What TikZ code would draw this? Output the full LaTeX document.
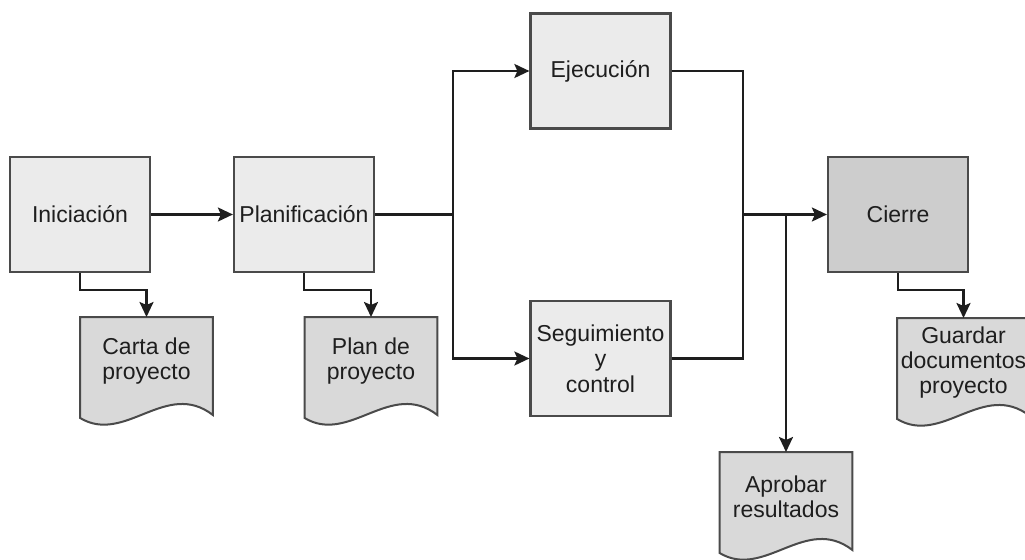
\documentclass[tikz,border=0pt]{standalone}
\usepackage{fontspec}
\setmainfont{Liberation Sans}
\usetikzlibrary{arrows.meta,calc,backgrounds}

\definecolor{boxfill}{HTML}{EBEBEB}
\definecolor{endfill}{HTML}{CDCDCD}
\definecolor{docfill}{HTML}{D9D9D9}
\definecolor{edge}{HTML}{4A4A4A}
\definecolor{ink}{HTML}{1E1E1E}

\tikzset{
  phase/.style={draw=edge, line width=1.1pt, fill=boxfill, minimum width=70pt, minimum height=57.5pt,
    align=center, inner sep=0pt, text=ink, font=\fontsize{11.5}{12.8}\selectfont},
  docnode/.style={minimum width=66pt, minimum height=44pt, anchor=north, align=center, inner sep=0pt,
    text=ink, font=\fontsize{11.5}{12.6}\selectfont},
  docline/.style={draw=edge, line width=1pt, fill=docfill},
  wire/.style={draw=ink, line width=1.2pt},
  flow/.style={wire, -{Stealth[length=7.5pt,width=7pt,inset=1.5pt]}}
}

\begin{document}
\begin{tikzpicture}[x=0.5pt,y=0.5pt]
\useasboundingbox (0,0) rectangle (1025,559);
% fases
\node[phase] (inic) at (80,344.5) {Iniciación};
\node[phase] (plan) at (304,344.5) {Planificación};
\node[phase] (ejec) at (600.5,488) {Ejecución};
\node[phase] (segu) at (600.5,200.5) {Seguimiento\\y\\control};
\node[phase, fill=endfill] (cierre) at (898,344.5) {Cierre};
% documentos
\node[docnode] (carta) at (146.5,242) {Carta de\\proyecto};
\node[docnode] (plandoc) at (371,242) {Plan de\\proyecto};
\node[docnode] (aprobar) at (786,107) {Aprobar\\resultados};
\node[docnode] (guardar) at (963.5,241) {Guardar\\documentos\\proyecto};
\begin{scope}[on background layer]
  \foreach \d in {carta,plandoc,aprobar,guardar}
    \draw[docline] (\d.north west) -- (\d.north east) -- ($(\d.north east)+(0,-98)$)
      .. controls ($(\d.north west)+(86,-62)$) and ($(\d.north west)+(45,-128)$) .. ($(\d.north west)+(0,-101)$)
      -- cycle;
\end{scope}
% cruces
\coordinate (split) at (453,344.5);
\coordinate (merge) at (743,344.5);
\coordinate (tap) at (786,344.5);

\draw[flow] (inic) -- (plan);
\draw[wire] (plan) -- (split);
\draw[flow] (split) |- (ejec);
\draw[flow] (split) |- (segu);
\draw[wire] (ejec) -| (merge) |- (segu);
\draw[flow] (merge) -- (cierre);
\draw[flow] (tap) -- (aprobar);
\draw[flow] (inic.south) -- ++(0,-17) -| (carta.north);
\draw[flow] (plan.south) -- ++(0,-17) -| (plandoc.north);
\draw[flow] (cierre.south) -- ++(0,-17) -| (guardar.north);
\end{tikzpicture}
\end{document}
